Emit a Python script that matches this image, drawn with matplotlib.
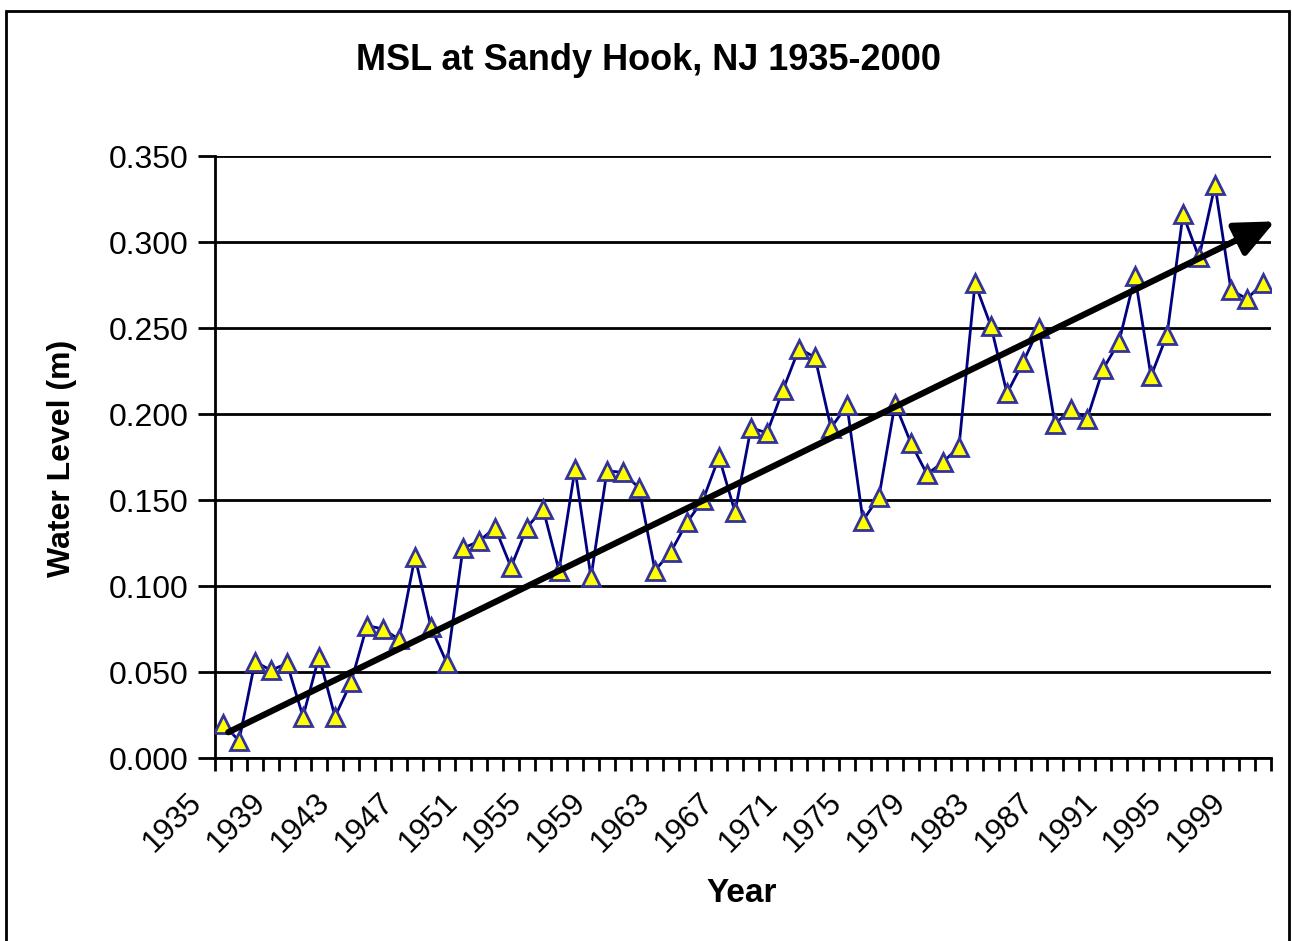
import matplotlib
matplotlib.use("Agg")
import matplotlib.pyplot as plt
import matplotlib.transforms as mtransforms
from matplotlib.patches import Rectangle

plt.rcParams['font.family'] = ['Liberation Sans', 'DejaVu Sans']

years = list(range(1935, 2001))
water_level = [
    0.020, 0.010, 0.056, 0.051, 0.055, 0.024, 0.059, 0.024, 0.044, 0.077,
    0.075, 0.069, 0.117, 0.076, 0.055, 0.122, 0.126, 0.134, 0.111, 0.134,
    0.145, 0.109, 0.168, 0.105, 0.167, 0.166, 0.157, 0.109, 0.120, 0.137,
    0.150, 0.175, 0.143, 0.192, 0.189, 0.214, 0.238, 0.233, 0.192, 0.205,
    0.138, 0.152, 0.206, 0.183, 0.165, 0.172, 0.181, 0.276, 0.251, 0.212,
    0.230, 0.250, 0.194, 0.203, 0.197, 0.226, 0.242, 0.280, 0.222, 0.246,
    0.316, 0.291, 0.333, 0.272, 0.267, 0.276,
]
yticks = [0.0, 0.05, 0.10, 0.15, 0.20, 0.25, 0.30, 0.35]
label_years = list(range(1935, 2000, 4))
# trend arrow endpoints (category index, value)
trend_start = (0.33, 0.015)
trend_end = (65.75, 0.312)

fig = plt.figure(figsize=(12.92, 9.41), dpi=100)
ax = fig.add_axes([215/1292, 1-758/941, (1271-215)/1292, (758-156)/941])

x = list(range(len(years)))
ax.plot(x, water_level, color='#000080', lw=2, marker='^', markersize=13.5,
        markerfacecolor='#FFFF00', markeredgecolor='#333399', markeredgewidth=2,
        zorder=3)

ax.annotate('', xy=trend_end, xytext=trend_start, annotation_clip=False,
            arrowprops=dict(arrowstyle='-|>,head_length=0.8,head_width=0.36',
                            lw=4.5, color='black',
                            mutation_scale=30, shrinkA=0, shrinkB=0),
            zorder=4)

ax.set_xlim(-0.5, len(years) - 0.5)
ax.set_ylim(0, 0.35)
ax.set_yticks(yticks)
ax.set_yticklabels([f"{v:.3f}" for v in yticks], fontsize=23)
ax.yaxis.grid(True, color='black', lw=2)
ax.set_axisbelow(True)

ax.set_xticks([i - 0.5 for i in range(len(years) + 1)], minor=True)
ax.set_xticks([years.index(y) for y in label_years])
ax.set_xticklabels([str(y) for y in label_years], fontsize=22.5, rotation=45,
                   ha='right', va='center', rotation_mode='anchor')
ax.tick_params(axis='x', which='major', length=0, pad=0)
ax.tick_params(axis='x', which='minor', length=9, width=2, direction='out')
ax.tick_params(axis='y', length=12, width=2, direction='out', pad=7)
offset = mtransforms.ScaledTranslation(-26/100, -40/100, fig.dpi_scale_trans)
for lbl in ax.get_xticklabels():
    lbl.set_transform(lbl.get_transform() + offset)

for s in ['top', 'right']:
    ax.spines[s].set_visible(False)
ax.spines['left'].set_linewidth(2)
ax.spines['bottom'].set_linewidth(2)

fig.text(649/1292, 1-60/941, 'MSL at Sandy Hook, NJ 1935-2000', fontsize=26,
         fontweight='bold', ha='center', va='center')
fig.text(742/1292, 1-894/941, 'Year', fontsize=24, fontweight='bold',
         ha='center', va='center')
fig.text(62/1292, 1-458/941, 'Water Level (m)', fontsize=23, fontweight='bold',
         ha='center', va='center', rotation=90)

fig.patches.append(Rectangle((6/1292, -0.01), (1289-6)/1292, 1-11/941 + 0.01,
                             transform=fig.transFigure, fill=False,
                             edgecolor='black', lw=2))

fig.savefig('out.png', dpi=100)
